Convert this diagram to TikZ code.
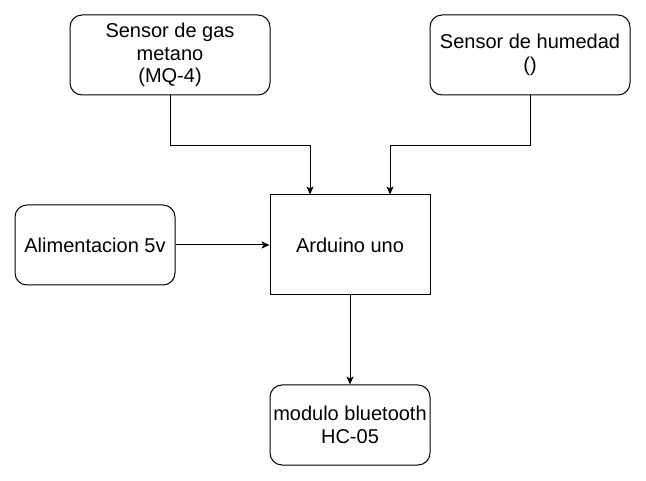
\documentclass[tikz,border=0pt]{standalone}
\usepackage{fontspec}
\setmainfont{Liberation Sans}
\usetikzlibrary{arrows.meta}
\begin{document}
\begin{tikzpicture}[x=1pt,y=-1pt,
  box/.style={draw=black,line width=1pt,fill=white,align=center,inner sep=0pt,
    font=\fontsize{20}{22.5}\selectfont},
  rbox/.style={box,rounded corners=12pt},
  arr/.style={draw=black,line width=1pt,-{Stealth[length=8pt,width=7pt,inset=2pt]}}]
\useasboundingbox (0,0) rectangle (646,481);
\node[rbox,minimum width=200pt,minimum height=80pt] (gas) at (170,55) {Sensor de gas\\metano\\(MQ-4)};
\node[rbox,minimum width=200pt,minimum height=80pt] (hum) at (530,55) {Sensor de humedad\\()};
\node[rbox,minimum width=160pt,minimum height=80pt] (ali) at (95,245) {Alimentacion 5v};
\node[box,minimum width=160pt,minimum height=100pt] (ard) at (350,245) {Arduino uno};
\node[rbox,minimum width=160pt,minimum height=80pt] (bt) at (350,425) {modulo bluetooth\\HC-05};
\draw[arr] (gas.south) -- ++(0,50) -| ([xshift=-40pt]ard.north);
\draw[arr] (hum.south) -- ++(0,50) -| ([xshift=40pt]ard.north);
\draw[arr] (ali.east) -- (ard.west);
\draw[arr] (ard.south) -- (bt.north);
\end{tikzpicture}
\end{document}
